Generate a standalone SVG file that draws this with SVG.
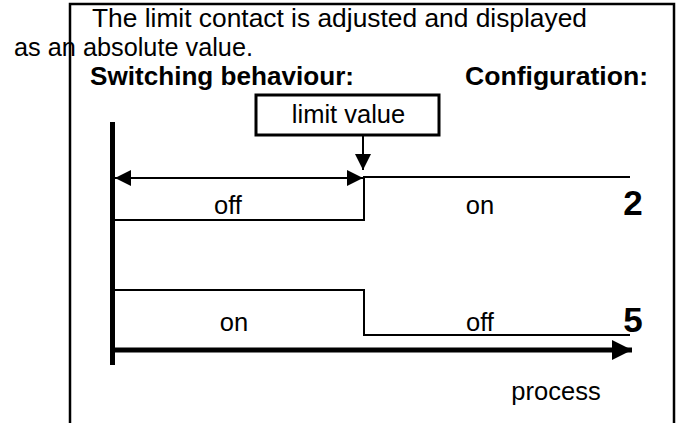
<svg xmlns="http://www.w3.org/2000/svg" width="677" height="423" viewBox="0 0 677 423">
<defs>
<style>
.t{font-family:"Liberation Sans",Arial,sans-serif;font-size:25.5px;fill:#000}
.b{font-family:"Liberation Sans",Arial,sans-serif;font-size:26.5px;font-weight:bold;fill:#000}
.n{font-family:"Liberation Sans",Arial,sans-serif;font-size:35px;font-weight:bold;fill:#000}
.ln{fill:none;stroke:#000;stroke-width:2}
</style>
<marker id="ah" viewBox="0 0 10 10" refX="10" refY="5" markerWidth="17" markerHeight="16" markerUnits="userSpaceOnUse" orient="auto-start-reverse">
<path d="M0,0L10,5L0,10z" fill="#000"/>
</marker>
<marker id="pa" viewBox="0 0 10 10" refX="10" refY="5" markerWidth="48" markerHeight="20" markerUnits="userSpaceOnUse" orient="auto">
<path d="M0,0L10,5L0,10z" fill="#000"/>
</marker>
</defs>
<rect id="frame" x="70" y="4" width="604" height="430" fill="none" stroke="#000" stroke-width="2.5"/>
<g id="texts">
<text class="t" x="92" y="27" textLength="495" lengthAdjust="spacingAndGlyphs">The limit contact is adjusted and displayed</text>
<text class="t" x="14" y="56" textLength="239" lengthAdjust="spacingAndGlyphs">as an absolute value.</text>
<text class="b" x="90" y="85" textLength="264" lengthAdjust="spacingAndGlyphs">Switching behaviour:</text>
<text class="b" x="465" y="85" textLength="183" lengthAdjust="spacingAndGlyphs">Configuration:</text>
</g>
<g id="limit-value">
<rect x="256" y="95" width="183" height="40" fill="#fff" stroke="#000" stroke-width="3"/>
<text class="t" x="348.5" y="123" text-anchor="middle">limit value</text>
</g>
<g id="config-2">
<text class="t" x="228" y="214" text-anchor="middle">off</text>
<text class="t" x="480" y="214" text-anchor="middle">on</text>
<text class="n" x="633" y="215" text-anchor="middle">2</text>
</g>
<g id="config-5">
<text class="t" x="234" y="331" text-anchor="middle">on</text>
<text class="t" x="480" y="331" text-anchor="middle">off</text>
<text class="n" x="633" y="332" text-anchor="middle">5</text>
</g>
<g id="process-label">
<text class="t" x="556" y="400" text-anchor="middle">process</text>
</g>
<g id="connectors">
<line x1="112.5" y1="122" x2="112.5" y2="365" stroke="#000" stroke-width="5"/>
<line x1="112" y1="350" x2="632" y2="350" stroke="#000" stroke-width="5" marker-end="url(#pa)"/>
<line x1="115" y1="178" x2="363" y2="178" stroke="#000" stroke-width="2" marker-start="url(#ah)" marker-end="url(#ah)"/>
<line x1="363" y1="135" x2="363" y2="170" stroke="#000" stroke-width="2" marker-end="url(#ah)"/>
<polyline class="ln" points="115,220 364,220 364,177 630,177"/>
<polyline class="ln" points="115,290 364,290 364,335 630,335"/>
</g>
</svg>
